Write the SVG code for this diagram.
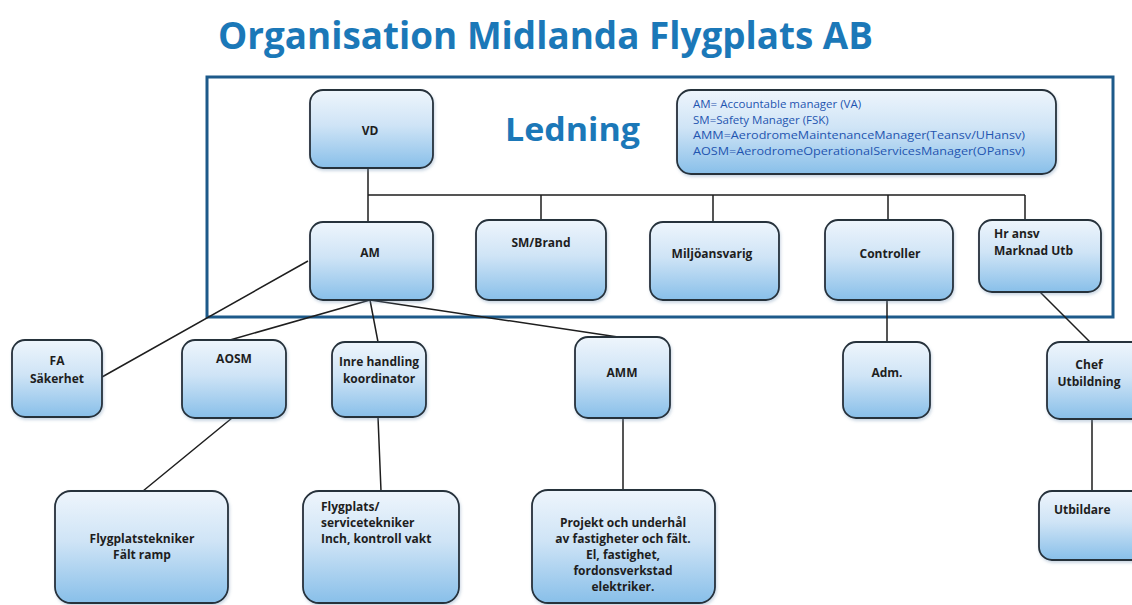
<svg xmlns="http://www.w3.org/2000/svg" width="1132" height="605" viewBox="0 0 1132 605">
<defs>
<linearGradient id="g" x1="0" y1="0" x2="0" y2="1">
<stop offset="0" stop-color="#eef5fc"/>
<stop offset="0.45" stop-color="#cfe4f6"/>
<stop offset="1" stop-color="#88bfe9"/>
</linearGradient>
<filter id="sh" x="-10%" y="-10%" width="130%" height="130%">
<feDropShadow dx="1" dy="2" stdDeviation="1.5" flood-color="#6a8fb0" flood-opacity="0.35"/>
</filter>
</defs>
<style>
.box{fill:url(#g);stroke:#26303a;stroke-width:1.8;filter:url(#sh)}
.t{font-family:"Open Sans","Liberation Sans",sans-serif;font-weight:700;font-size:12px;fill:#1e1e1e}
.c{text-anchor:middle}
.lg{font-family:"Open Sans","Liberation Sans",sans-serif;font-size:11.5px;fill:#1f55b0}
.ln{stroke:#1e1e1e;stroke-width:1.5;fill:none}
</style>
<rect width="1132" height="605" fill="#ffffff"/>
<text x="218" y="49" font-family="'Open Sans','Liberation Sans',sans-serif" font-weight="700" font-size="37" fill="#1b78b8" textLength="655" lengthAdjust="spacingAndGlyphs">Organisation Midlanda Flygplats AB</text>
<rect id="frame" x="207" y="77" width="906" height="240" fill="none" stroke="#1d5a8a" stroke-width="3"/>
<text x="505" y="141" font-family="'Open Sans','Liberation Sans',sans-serif" font-weight="700" font-size="32" fill="#1b78b8" textLength="135" lengthAdjust="spacingAndGlyphs">Ledning</text>

<g id="connectors">
<path class="ln" d="M368 168V222M368 195H1025M541 195V220M713 195V222M888 195V220M1025 195V220"/>
<path class="ln" d="M308 261L102 377M370 300L230 340M370 300L378 342M370 300L618 337"/>
<path class="ln" d="M887 300V342M1040 292L1090 342"/>
<path class="ln" d="M232 418L143 491M378 417L381 491M623 418V490M1092 419V491"/>
</g>

<g id="legend">
<rect class="box" x="677" y="90" width="379" height="84" rx="14"/>
<text class="lg" x="693" y="108">AM= Accountable manager (VA)</text>
<text class="lg" x="693" y="123.5">SM=Safety Manager (FSK)</text>
<text class="lg" x="693" y="139" textLength="332" lengthAdjust="spacingAndGlyphs">AMM=AerodromeMaintenanceManager(Teansv/UHansv)</text>
<text class="lg" x="693" y="154.5" textLength="332" lengthAdjust="spacingAndGlyphs">AOSM=AerodromeOperationalServicesManager(OPansv)</text>
</g>

<g id="vd"><rect class="box" x="310" y="90" width="123" height="78" rx="13"/><text class="t c" x="370" y="135">VD</text></g>
<g id="am"><rect class="box" x="310" y="222" width="123" height="78" rx="13"/><text class="t c" x="370" y="257">AM</text></g>
<g id="sm"><rect class="box" x="476" y="220" width="130" height="80" rx="13"/><text class="t c" x="541" y="247">SM/Brand</text></g>
<g id="miljo"><rect class="box" x="650" y="222" width="129" height="78" rx="13"/><text class="t c" x="712" y="258">Miljöansvarig</text></g>
<g id="controller"><rect class="box" x="825" y="220" width="128" height="80" rx="13"/><text class="t c" x="890" y="258">Controller</text></g>
<g id="hr"><rect class="box" x="979" y="220" width="122" height="72" rx="13"/><text class="t" x="994" y="238">Hr ansv</text><text class="t" x="994" y="255">Marknad Utb</text></g>

<g id="fa"><rect class="box" x="12" y="340" width="90" height="77" rx="13"/><text class="t c" x="57" y="365">FA</text><text class="t c" x="57" y="383">Säkerhet</text></g>
<g id="aosm"><rect class="box" x="182" y="340" width="104" height="78" rx="13"/><text class="t c" x="234" y="363">AOSM</text></g>
<g id="inre"><rect class="box" x="332" y="342" width="94" height="75" rx="13"/><text class="t c" x="379" y="366">Inre handling</text><text class="t c" x="379" y="383">koordinator</text></g>
<g id="amm"><rect class="box" x="575" y="337" width="95" height="81" rx="13"/><text class="t c" x="622" y="377">AMM</text></g>
<g id="adm"><rect class="box" x="843" y="342" width="87" height="76" rx="13"/><text class="t c" x="887" y="377">Adm.</text></g>
<g id="chef"><rect class="box" x="1047" y="342" width="100" height="77" rx="13"/><text class="t c" x="1089" y="369">Chef</text><text class="t c" x="1089" y="386">Utbildning</text></g>

<g id="flygtek"><rect class="box" x="55" y="491" width="173" height="112" rx="16"/><text class="t c" x="142" y="543">Flygplatstekniker</text><text class="t c" x="142" y="559">Fält ramp</text></g>
<g id="flygplats"><rect class="box" x="303" y="491" width="156" height="112" rx="16"/><text class="t" x="321" y="511">Flygplats/</text><text class="t" x="321" y="527">servicetekniker</text><text class="t" x="321" y="543">Inch, kontroll vakt</text></g>
<g id="projekt"><rect class="box" x="532" y="490" width="183" height="113" rx="16"/><text class="t c" x="623" y="527">Projekt och underhål</text><text class="t c" x="623" y="543">av fastigheter och fält.</text><text class="t c" x="623" y="559">El, fastighet,</text><text class="t c" x="623" y="575">fordonsverkstad</text><text class="t c" x="623" y="591">elektriker.</text></g>
<g id="utbildare"><rect class="box" x="1039" y="491" width="110" height="69" rx="13"/><text class="t" x="1054" y="514">Utbildare</text></g>
</svg>
